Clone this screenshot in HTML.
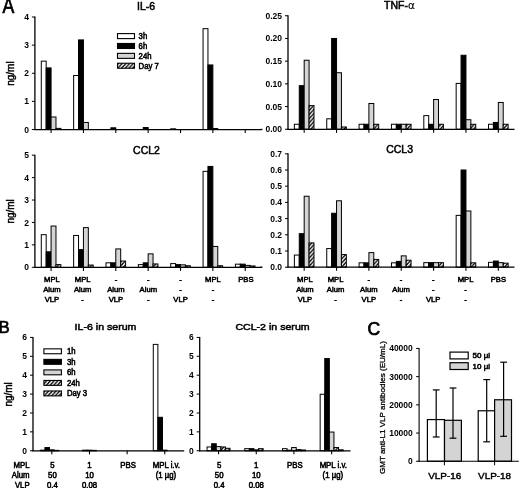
<!DOCTYPE html>
<html><head><meta charset="utf-8"><title>Figure</title>
<style>
html,body{margin:0;padding:0;background:#fff;}
svg{display:block;font-family:"Liberation Sans",Arial,sans-serif;fill:#000;}
svg text{fill:#000;stroke:#000;stroke-width:0.55px;}
svg text.tk{font-weight:bold;stroke-width:0;}
svg text.tt{stroke-width:0.5px;}
svg text.gm{stroke-width:0.3px;}
svg text.pl{stroke-width:0.7px;}
svg text.yl{stroke-width:0.45px;}
</style></head><body>
<svg width="520" height="488" viewBox="0 0 520 488">
<defs>
<pattern id="hatch" patternUnits="userSpaceOnUse" width="3.7" height="4.1">
<rect width="3.7" height="4.1" fill="#fff"/>
<path d="M-1.85,4.1 L1.85,0 M1.85,4.1 L5.55,0 M-1.85,8.2 L1.85,4.1 M1.85,0 L5.55,-4.1" stroke="#000" stroke-width="1.35"/>
</pattern>
</defs>
<rect width="520" height="488" fill="#fff"/>
<text class="pl" transform="translate(2.5,12.6) scale(0.82,1)" font-size="21.5">A</text>
<rect x="41.28" y="61.16" width="4.90" height="68.34" fill="#fff" stroke="#000" stroke-width="1.0"/>
<rect x="46.18" y="67.91" width="4.90" height="61.59" fill="#000" stroke="#000" stroke-width="1.0"/>
<rect x="51.08" y="116.98" width="4.90" height="12.52" fill="#d4d4d4" stroke="#000" stroke-width="1.0"/>
<rect x="55.98" y="128.38" width="4.90" height="1.12" fill="url(#hatch)" stroke="#000" stroke-width="1.0"/>
<rect x="73.64" y="75.50" width="4.90" height="54.00" fill="#fff" stroke="#000" stroke-width="1.0"/>
<rect x="78.54" y="39.92" width="4.90" height="89.58" fill="#000" stroke="#000" stroke-width="1.0"/>
<rect x="83.44" y="122.47" width="4.90" height="7.03" fill="#d4d4d4" stroke="#000" stroke-width="1.0"/>
<rect x="110.89" y="127.81" width="4.90" height="1.69" fill="#000" stroke="#000" stroke-width="1.0"/>
<rect x="143.25" y="127.53" width="4.90" height="1.97" fill="#000" stroke="#000" stroke-width="1.0"/>
<rect x="170.71" y="128.80" width="4.90" height="0.70" fill="#fff" stroke="#000" stroke-width="1.0"/>
<rect x="203.06" y="28.67" width="4.90" height="100.83" fill="#fff" stroke="#000" stroke-width="1.0"/>
<rect x="207.96" y="64.95" width="4.90" height="64.55" fill="#000" stroke="#000" stroke-width="1.0"/>
<rect x="212.86" y="128.52" width="4.90" height="0.98" fill="#d4d4d4" stroke="#000" stroke-width="1.0"/>
<line x1="34.90" y1="16.50" x2="34.90" y2="130.10" stroke="#000" stroke-width="1.3"/>
<line x1="34.30" y1="129.50" x2="262.00" y2="129.50" stroke="#000" stroke-width="1.25"/>
<line x1="31.90" y1="129.50" x2="34.90" y2="129.50" stroke="#000" stroke-width="1"/>
<text x="28.90" y="132.54" font-size="8.5" text-anchor="end" class="tk">0</text>
<line x1="31.90" y1="101.38" x2="34.90" y2="101.38" stroke="#000" stroke-width="1"/>
<text x="28.90" y="104.42" font-size="8.5" text-anchor="end" class="tk">1</text>
<line x1="31.90" y1="73.25" x2="34.90" y2="73.25" stroke="#000" stroke-width="1"/>
<text x="28.90" y="76.29" font-size="8.5" text-anchor="end" class="tk">2</text>
<line x1="31.90" y1="45.12" x2="34.90" y2="45.12" stroke="#000" stroke-width="1"/>
<text x="28.90" y="48.17" font-size="8.5" text-anchor="end" class="tk">3</text>
<line x1="31.90" y1="17.00" x2="34.90" y2="17.00" stroke="#000" stroke-width="1"/>
<text x="28.90" y="20.04" font-size="8.5" text-anchor="end" class="tk">4</text>
<line x1="51.08" y1="129.50" x2="51.08" y2="133.10" stroke="#000" stroke-width="1.1"/>
<line x1="83.44" y1="129.50" x2="83.44" y2="133.10" stroke="#000" stroke-width="1.1"/>
<line x1="115.79" y1="129.50" x2="115.79" y2="133.10" stroke="#000" stroke-width="1.1"/>
<line x1="148.15" y1="129.50" x2="148.15" y2="133.10" stroke="#000" stroke-width="1.1"/>
<line x1="180.51" y1="129.50" x2="180.51" y2="133.10" stroke="#000" stroke-width="1.1"/>
<line x1="212.86" y1="129.50" x2="212.86" y2="133.10" stroke="#000" stroke-width="1.1"/>
<line x1="245.22" y1="129.50" x2="245.22" y2="133.10" stroke="#000" stroke-width="1.1"/>
<text transform="translate(146.00,10.28) scale(1.05,1)" font-size="10" text-anchor="middle" class="tt">IL-6</text>
<rect x="117.50" y="33.60" width="17.00" height="5.00" fill="#fff" stroke="#000" stroke-width="1.1"/>
<text transform="translate(138.60,39.10) scale(0.92,1)" font-size="8.4" text-anchor="start" >3h</text>
<rect x="117.50" y="43.48" width="17.00" height="5.00" fill="#000" stroke="#000" stroke-width="1.1"/>
<text transform="translate(138.60,48.98) scale(0.92,1)" font-size="8.4" text-anchor="start" >6h</text>
<rect x="117.50" y="53.36" width="17.00" height="5.00" fill="#d4d4d4" stroke="#000" stroke-width="1.1"/>
<text transform="translate(138.60,58.86) scale(0.92,1)" font-size="8.4" text-anchor="start" >24h</text>
<rect x="117.50" y="63.24" width="17.00" height="5.00" fill="url(#hatch)" stroke="#000" stroke-width="1.1"/>
<text transform="translate(138.60,68.74) scale(0.92,1)" font-size="8.4" text-anchor="start" >Day 7</text>
<text transform="translate(14.0,73.6) rotate(-90)" font-size="10" text-anchor="middle" class="yl">ng/ml</text>
<rect x="294.38" y="124.26" width="4.90" height="4.99" fill="#fff" stroke="#000" stroke-width="1.0"/>
<rect x="299.28" y="85.67" width="4.90" height="43.58" fill="#000" stroke="#000" stroke-width="1.0"/>
<rect x="304.18" y="60.24" width="4.90" height="69.01" fill="#d4d4d4" stroke="#000" stroke-width="1.0"/>
<rect x="309.08" y="105.64" width="4.90" height="23.61" fill="url(#hatch)" stroke="#000" stroke-width="1.0"/>
<rect x="326.74" y="118.81" width="4.90" height="10.44" fill="#fff" stroke="#000" stroke-width="1.0"/>
<rect x="331.64" y="38.45" width="4.90" height="90.80" fill="#000" stroke="#000" stroke-width="1.0"/>
<rect x="336.54" y="72.73" width="4.90" height="56.52" fill="#d4d4d4" stroke="#000" stroke-width="1.0"/>
<rect x="341.44" y="126.98" width="4.90" height="2.27" fill="url(#hatch)" stroke="#000" stroke-width="1.0"/>
<rect x="359.09" y="124.26" width="4.90" height="4.99" fill="#fff" stroke="#000" stroke-width="1.0"/>
<rect x="363.99" y="124.26" width="4.90" height="4.99" fill="#000" stroke="#000" stroke-width="1.0"/>
<rect x="368.89" y="103.51" width="4.90" height="25.74" fill="#d4d4d4" stroke="#000" stroke-width="1.0"/>
<rect x="373.79" y="124.26" width="4.90" height="4.99" fill="url(#hatch)" stroke="#000" stroke-width="1.0"/>
<rect x="391.45" y="124.26" width="4.90" height="4.99" fill="#fff" stroke="#000" stroke-width="1.0"/>
<rect x="396.35" y="124.26" width="4.90" height="4.99" fill="#000" stroke="#000" stroke-width="1.0"/>
<rect x="401.25" y="124.26" width="4.90" height="4.99" fill="#d4d4d4" stroke="#000" stroke-width="1.0"/>
<rect x="406.15" y="124.26" width="4.90" height="4.99" fill="url(#hatch)" stroke="#000" stroke-width="1.0"/>
<rect x="423.81" y="115.63" width="4.90" height="13.62" fill="#fff" stroke="#000" stroke-width="1.0"/>
<rect x="428.71" y="124.26" width="4.90" height="4.99" fill="#000" stroke="#000" stroke-width="1.0"/>
<rect x="433.61" y="99.51" width="4.90" height="29.74" fill="#d4d4d4" stroke="#000" stroke-width="1.0"/>
<rect x="438.51" y="124.26" width="4.90" height="4.99" fill="url(#hatch)" stroke="#000" stroke-width="1.0"/>
<rect x="456.16" y="83.40" width="4.90" height="45.85" fill="#fff" stroke="#000" stroke-width="1.0"/>
<rect x="461.06" y="55.25" width="4.90" height="74.00" fill="#000" stroke="#000" stroke-width="1.0"/>
<rect x="465.96" y="119.72" width="4.90" height="9.53" fill="#d4d4d4" stroke="#000" stroke-width="1.0"/>
<rect x="470.86" y="124.26" width="4.90" height="4.99" fill="url(#hatch)" stroke="#000" stroke-width="1.0"/>
<rect x="488.52" y="124.26" width="4.90" height="4.99" fill="#fff" stroke="#000" stroke-width="1.0"/>
<rect x="493.42" y="122.44" width="4.90" height="6.81" fill="#000" stroke="#000" stroke-width="1.0"/>
<rect x="498.32" y="102.46" width="4.90" height="26.79" fill="#d4d4d4" stroke="#000" stroke-width="1.0"/>
<rect x="503.22" y="124.26" width="4.90" height="4.99" fill="url(#hatch)" stroke="#000" stroke-width="1.0"/>
<line x1="288.00" y1="15.25" x2="288.00" y2="129.85" stroke="#000" stroke-width="1.3"/>
<line x1="287.40" y1="129.25" x2="514.50" y2="129.25" stroke="#000" stroke-width="1.25"/>
<line x1="285.00" y1="129.25" x2="288.00" y2="129.25" stroke="#000" stroke-width="1"/>
<text x="282.00" y="132.29" font-size="8.5" text-anchor="end" class="tk">0.00</text>
<line x1="285.00" y1="106.55" x2="288.00" y2="106.55" stroke="#000" stroke-width="1"/>
<text x="282.00" y="109.59" font-size="8.5" text-anchor="end" class="tk">0.05</text>
<line x1="285.00" y1="83.85" x2="288.00" y2="83.85" stroke="#000" stroke-width="1"/>
<text x="282.00" y="86.89" font-size="8.5" text-anchor="end" class="tk">0.10</text>
<line x1="285.00" y1="61.15" x2="288.00" y2="61.15" stroke="#000" stroke-width="1"/>
<text x="282.00" y="64.19" font-size="8.5" text-anchor="end" class="tk">0.15</text>
<line x1="285.00" y1="38.45" x2="288.00" y2="38.45" stroke="#000" stroke-width="1"/>
<text x="282.00" y="41.49" font-size="8.5" text-anchor="end" class="tk">0.20</text>
<line x1="285.00" y1="15.75" x2="288.00" y2="15.75" stroke="#000" stroke-width="1"/>
<text x="282.00" y="18.79" font-size="8.5" text-anchor="end" class="tk">0.25</text>
<line x1="304.18" y1="129.25" x2="304.18" y2="132.85" stroke="#000" stroke-width="1.1"/>
<line x1="336.54" y1="129.25" x2="336.54" y2="132.85" stroke="#000" stroke-width="1.1"/>
<line x1="368.89" y1="129.25" x2="368.89" y2="132.85" stroke="#000" stroke-width="1.1"/>
<line x1="401.25" y1="129.25" x2="401.25" y2="132.85" stroke="#000" stroke-width="1.1"/>
<line x1="433.61" y1="129.25" x2="433.61" y2="132.85" stroke="#000" stroke-width="1.1"/>
<line x1="465.96" y1="129.25" x2="465.96" y2="132.85" stroke="#000" stroke-width="1.1"/>
<line x1="498.32" y1="129.25" x2="498.32" y2="132.85" stroke="#000" stroke-width="1.1"/>
<text transform="translate(399.50,8.88) scale(1.05,1)" font-size="10" text-anchor="middle" class="tt">TNF-<tspan font-family="DejaVu Sans" stroke-width="0.15">α</tspan></text>
<line x1="260.00" y1="129.40" x2="262.50" y2="129.40" stroke="#000" stroke-width="1.1"/>
<rect x="41.28" y="234.68" width="4.90" height="32.62" fill="#fff" stroke="#000" stroke-width="1.0"/>
<rect x="46.18" y="251.83" width="4.90" height="15.47" fill="#000" stroke="#000" stroke-width="1.0"/>
<rect x="51.08" y="226.05" width="4.90" height="41.25" fill="#d4d4d4" stroke="#000" stroke-width="1.0"/>
<rect x="55.98" y="264.61" width="4.90" height="2.69" fill="url(#hatch)" stroke="#000" stroke-width="1.0"/>
<rect x="73.64" y="235.46" width="4.90" height="31.84" fill="#fff" stroke="#000" stroke-width="1.0"/>
<rect x="78.54" y="249.59" width="4.90" height="17.71" fill="#000" stroke="#000" stroke-width="1.0"/>
<rect x="83.44" y="227.62" width="4.90" height="39.68" fill="#d4d4d4" stroke="#000" stroke-width="1.0"/>
<rect x="88.34" y="265.06" width="4.90" height="2.24" fill="url(#hatch)" stroke="#000" stroke-width="1.0"/>
<rect x="105.99" y="262.82" width="4.90" height="4.48" fill="#fff" stroke="#000" stroke-width="1.0"/>
<rect x="110.89" y="262.82" width="4.90" height="4.48" fill="#000" stroke="#000" stroke-width="1.0"/>
<rect x="115.79" y="248.92" width="4.90" height="18.38" fill="#d4d4d4" stroke="#000" stroke-width="1.0"/>
<rect x="120.69" y="261.02" width="4.90" height="6.28" fill="url(#hatch)" stroke="#000" stroke-width="1.0"/>
<rect x="138.35" y="264.61" width="4.90" height="2.69" fill="#fff" stroke="#000" stroke-width="1.0"/>
<rect x="143.25" y="262.82" width="4.90" height="4.48" fill="#000" stroke="#000" stroke-width="1.0"/>
<rect x="148.15" y="253.85" width="4.90" height="13.45" fill="#d4d4d4" stroke="#000" stroke-width="1.0"/>
<rect x="153.05" y="263.94" width="4.90" height="3.36" fill="url(#hatch)" stroke="#000" stroke-width="1.0"/>
<rect x="170.71" y="263.60" width="4.90" height="3.70" fill="#fff" stroke="#000" stroke-width="1.0"/>
<rect x="175.61" y="264.61" width="4.90" height="2.69" fill="#000" stroke="#000" stroke-width="1.0"/>
<rect x="180.51" y="264.83" width="4.90" height="2.47" fill="#d4d4d4" stroke="#000" stroke-width="1.0"/>
<rect x="185.41" y="265.73" width="4.90" height="1.57" fill="url(#hatch)" stroke="#000" stroke-width="1.0"/>
<rect x="203.06" y="171.34" width="4.90" height="95.96" fill="#fff" stroke="#000" stroke-width="1.0"/>
<rect x="207.96" y="166.41" width="4.90" height="100.89" fill="#000" stroke="#000" stroke-width="1.0"/>
<rect x="212.86" y="246.45" width="4.90" height="20.85" fill="#d4d4d4" stroke="#000" stroke-width="1.0"/>
<rect x="217.76" y="265.73" width="4.90" height="1.57" fill="url(#hatch)" stroke="#000" stroke-width="1.0"/>
<rect x="235.42" y="264.16" width="4.90" height="3.14" fill="#fff" stroke="#000" stroke-width="1.0"/>
<rect x="240.32" y="264.16" width="4.90" height="3.14" fill="#000" stroke="#000" stroke-width="1.0"/>
<rect x="245.22" y="265.39" width="4.90" height="1.91" fill="#d4d4d4" stroke="#000" stroke-width="1.0"/>
<rect x="250.12" y="265.95" width="4.90" height="1.35" fill="url(#hatch)" stroke="#000" stroke-width="1.0"/>
<line x1="34.90" y1="154.70" x2="34.90" y2="267.90" stroke="#000" stroke-width="1.3"/>
<line x1="34.30" y1="267.30" x2="262.00" y2="267.30" stroke="#000" stroke-width="1.25"/>
<line x1="31.90" y1="267.30" x2="34.90" y2="267.30" stroke="#000" stroke-width="1"/>
<text x="28.90" y="270.34" font-size="8.5" text-anchor="end" class="tk">0</text>
<line x1="31.90" y1="244.88" x2="34.90" y2="244.88" stroke="#000" stroke-width="1"/>
<text x="28.90" y="247.92" font-size="8.5" text-anchor="end" class="tk">1</text>
<line x1="31.90" y1="222.46" x2="34.90" y2="222.46" stroke="#000" stroke-width="1"/>
<text x="28.90" y="225.50" font-size="8.5" text-anchor="end" class="tk">2</text>
<line x1="31.90" y1="200.04" x2="34.90" y2="200.04" stroke="#000" stroke-width="1"/>
<text x="28.90" y="203.08" font-size="8.5" text-anchor="end" class="tk">3</text>
<line x1="31.90" y1="177.62" x2="34.90" y2="177.62" stroke="#000" stroke-width="1"/>
<text x="28.90" y="180.66" font-size="8.5" text-anchor="end" class="tk">4</text>
<line x1="31.90" y1="155.20" x2="34.90" y2="155.20" stroke="#000" stroke-width="1"/>
<text x="28.90" y="158.24" font-size="8.5" text-anchor="end" class="tk">5</text>
<line x1="51.08" y1="267.30" x2="51.08" y2="270.90" stroke="#000" stroke-width="1.1"/>
<line x1="83.44" y1="267.30" x2="83.44" y2="270.90" stroke="#000" stroke-width="1.1"/>
<line x1="115.79" y1="267.30" x2="115.79" y2="270.90" stroke="#000" stroke-width="1.1"/>
<line x1="148.15" y1="267.30" x2="148.15" y2="270.90" stroke="#000" stroke-width="1.1"/>
<line x1="180.51" y1="267.30" x2="180.51" y2="270.90" stroke="#000" stroke-width="1.1"/>
<line x1="212.86" y1="267.30" x2="212.86" y2="270.90" stroke="#000" stroke-width="1.1"/>
<line x1="245.22" y1="267.30" x2="245.22" y2="270.90" stroke="#000" stroke-width="1.1"/>
<text transform="translate(146.50,153.58) scale(1.05,1)" font-size="10" text-anchor="middle" class="tt">CCL2</text>
<text transform="translate(14.0,211.4) rotate(-90)" font-size="10" text-anchor="middle" class="yl">ng/ml</text>
<rect x="294.38" y="255.05" width="4.90" height="12.15" fill="#fff" stroke="#000" stroke-width="1.0"/>
<rect x="299.28" y="233.67" width="4.90" height="33.53" fill="#000" stroke="#000" stroke-width="1.0"/>
<rect x="304.18" y="196.24" width="4.90" height="70.96" fill="#d4d4d4" stroke="#000" stroke-width="1.0"/>
<rect x="309.08" y="242.90" width="4.90" height="24.30" fill="url(#hatch)" stroke="#000" stroke-width="1.0"/>
<rect x="326.74" y="248.57" width="4.90" height="18.63" fill="#fff" stroke="#000" stroke-width="1.0"/>
<rect x="331.64" y="213.25" width="4.90" height="53.95" fill="#000" stroke="#000" stroke-width="1.0"/>
<rect x="336.54" y="200.78" width="4.90" height="66.42" fill="#d4d4d4" stroke="#000" stroke-width="1.0"/>
<rect x="341.44" y="254.56" width="4.90" height="12.64" fill="url(#hatch)" stroke="#000" stroke-width="1.0"/>
<rect x="359.09" y="262.83" width="4.90" height="4.37" fill="#fff" stroke="#000" stroke-width="1.0"/>
<rect x="363.99" y="262.83" width="4.90" height="4.37" fill="#000" stroke="#000" stroke-width="1.0"/>
<rect x="368.89" y="252.62" width="4.90" height="14.58" fill="#d4d4d4" stroke="#000" stroke-width="1.0"/>
<rect x="373.79" y="259.42" width="4.90" height="7.78" fill="url(#hatch)" stroke="#000" stroke-width="1.0"/>
<rect x="391.45" y="262.83" width="4.90" height="4.37" fill="#fff" stroke="#000" stroke-width="1.0"/>
<rect x="396.35" y="261.37" width="4.90" height="5.83" fill="#000" stroke="#000" stroke-width="1.0"/>
<rect x="401.25" y="255.86" width="4.90" height="11.34" fill="#d4d4d4" stroke="#000" stroke-width="1.0"/>
<rect x="406.15" y="260.23" width="4.90" height="6.97" fill="url(#hatch)" stroke="#000" stroke-width="1.0"/>
<rect x="423.81" y="262.66" width="4.90" height="4.54" fill="#fff" stroke="#000" stroke-width="1.0"/>
<rect x="428.71" y="262.66" width="4.90" height="4.54" fill="#000" stroke="#000" stroke-width="1.0"/>
<rect x="433.61" y="262.66" width="4.90" height="4.54" fill="#d4d4d4" stroke="#000" stroke-width="1.0"/>
<rect x="438.51" y="262.66" width="4.90" height="4.54" fill="url(#hatch)" stroke="#000" stroke-width="1.0"/>
<rect x="456.16" y="215.36" width="4.90" height="51.84" fill="#fff" stroke="#000" stroke-width="1.0"/>
<rect x="461.06" y="170.00" width="4.90" height="97.20" fill="#000" stroke="#000" stroke-width="1.0"/>
<rect x="465.96" y="210.99" width="4.90" height="56.21" fill="#d4d4d4" stroke="#000" stroke-width="1.0"/>
<rect x="470.86" y="262.83" width="4.90" height="4.37" fill="url(#hatch)" stroke="#000" stroke-width="1.0"/>
<rect x="488.52" y="262.34" width="4.90" height="4.86" fill="#fff" stroke="#000" stroke-width="1.0"/>
<rect x="493.42" y="261.04" width="4.90" height="6.16" fill="#000" stroke="#000" stroke-width="1.0"/>
<rect x="498.32" y="262.66" width="4.90" height="4.54" fill="#d4d4d4" stroke="#000" stroke-width="1.0"/>
<rect x="503.22" y="263.15" width="4.90" height="4.05" fill="url(#hatch)" stroke="#000" stroke-width="1.0"/>
<line x1="288.00" y1="153.30" x2="288.00" y2="267.80" stroke="#000" stroke-width="1.3"/>
<line x1="287.40" y1="267.20" x2="514.50" y2="267.20" stroke="#000" stroke-width="1.25"/>
<line x1="285.00" y1="267.20" x2="288.00" y2="267.20" stroke="#000" stroke-width="1"/>
<text x="282.00" y="270.24" font-size="8.5" text-anchor="end" class="tk">0.0</text>
<line x1="285.00" y1="251.00" x2="288.00" y2="251.00" stroke="#000" stroke-width="1"/>
<text x="282.00" y="254.04" font-size="8.5" text-anchor="end" class="tk">0.1</text>
<line x1="285.00" y1="234.80" x2="288.00" y2="234.80" stroke="#000" stroke-width="1"/>
<text x="282.00" y="237.84" font-size="8.5" text-anchor="end" class="tk">0.2</text>
<line x1="285.00" y1="218.60" x2="288.00" y2="218.60" stroke="#000" stroke-width="1"/>
<text x="282.00" y="221.64" font-size="8.5" text-anchor="end" class="tk">0.3</text>
<line x1="285.00" y1="202.40" x2="288.00" y2="202.40" stroke="#000" stroke-width="1"/>
<text x="282.00" y="205.44" font-size="8.5" text-anchor="end" class="tk">0.4</text>
<line x1="285.00" y1="186.20" x2="288.00" y2="186.20" stroke="#000" stroke-width="1"/>
<text x="282.00" y="189.24" font-size="8.5" text-anchor="end" class="tk">0.5</text>
<line x1="285.00" y1="170.00" x2="288.00" y2="170.00" stroke="#000" stroke-width="1"/>
<text x="282.00" y="173.04" font-size="8.5" text-anchor="end" class="tk">0.6</text>
<line x1="285.00" y1="153.80" x2="288.00" y2="153.80" stroke="#000" stroke-width="1"/>
<text x="282.00" y="156.84" font-size="8.5" text-anchor="end" class="tk">0.7</text>
<line x1="304.18" y1="267.20" x2="304.18" y2="270.80" stroke="#000" stroke-width="1.1"/>
<line x1="336.54" y1="267.20" x2="336.54" y2="270.80" stroke="#000" stroke-width="1.1"/>
<line x1="368.89" y1="267.20" x2="368.89" y2="270.80" stroke="#000" stroke-width="1.1"/>
<line x1="401.25" y1="267.20" x2="401.25" y2="270.80" stroke="#000" stroke-width="1.1"/>
<line x1="433.61" y1="267.20" x2="433.61" y2="270.80" stroke="#000" stroke-width="1.1"/>
<line x1="465.96" y1="267.20" x2="465.96" y2="270.80" stroke="#000" stroke-width="1.1"/>
<line x1="498.32" y1="267.20" x2="498.32" y2="270.80" stroke="#000" stroke-width="1.1"/>
<text transform="translate(399.60,152.98) scale(1.05,1)" font-size="10" text-anchor="middle" class="tt">CCL3</text>
<line x1="260.00" y1="267.20" x2="262.50" y2="267.20" stroke="#000" stroke-width="1.1"/>
<text transform="translate(51.91,282.33) scale(0.97,1)" font-size="7.9" text-anchor="middle" >MPL</text>
<text transform="translate(51.91,291.98) scale(0.97,1)" font-size="7.9" text-anchor="middle" >Alum</text>
<text transform="translate(51.91,301.63) scale(0.97,1)" font-size="7.9" text-anchor="middle" >VLP</text>
<text transform="translate(82.64,282.33) scale(0.97,1)" font-size="7.9" text-anchor="middle" >MPL</text>
<text transform="translate(82.64,291.98) scale(0.97,1)" font-size="7.9" text-anchor="middle" >Alum</text>
<text transform="translate(82.64,301.63) scale(0.97,1)" font-size="7.9" text-anchor="middle" >-</text>
<text transform="translate(115.97,282.33) scale(0.97,1)" font-size="7.9" text-anchor="middle" >-</text>
<text transform="translate(115.97,291.98) scale(0.97,1)" font-size="7.9" text-anchor="middle" >Alum</text>
<text transform="translate(115.97,301.63) scale(0.97,1)" font-size="7.9" text-anchor="middle" >VLP</text>
<text transform="translate(148.30,282.33) scale(0.97,1)" font-size="7.9" text-anchor="middle" >-</text>
<text transform="translate(148.30,291.98) scale(0.97,1)" font-size="7.9" text-anchor="middle" >Alum</text>
<text transform="translate(148.30,301.63) scale(0.97,1)" font-size="7.9" text-anchor="middle" >-</text>
<text transform="translate(180.53,282.33) scale(0.97,1)" font-size="7.9" text-anchor="middle" >-</text>
<text transform="translate(180.53,291.98) scale(0.97,1)" font-size="7.9" text-anchor="middle" >-</text>
<text transform="translate(180.53,301.63) scale(0.97,1)" font-size="7.9" text-anchor="middle" >VLP</text>
<text transform="translate(212.96,282.33) scale(0.97,1)" font-size="7.9" text-anchor="middle" >MPL</text>
<text transform="translate(212.96,291.98) scale(0.97,1)" font-size="7.9" text-anchor="middle" >-</text>
<text transform="translate(212.96,301.63) scale(0.97,1)" font-size="7.9" text-anchor="middle" >-</text>
<text transform="translate(245.89,282.33) scale(0.97,1)" font-size="7.9" text-anchor="middle" >PBS</text>
<text transform="translate(304.88,282.33) scale(0.97,1)" font-size="7.9" text-anchor="middle" >MPL</text>
<text transform="translate(304.88,291.98) scale(0.97,1)" font-size="7.9" text-anchor="middle" >Alum</text>
<text transform="translate(304.88,301.63) scale(0.97,1)" font-size="7.9" text-anchor="middle" >VLP</text>
<text transform="translate(335.54,282.33) scale(0.97,1)" font-size="7.9" text-anchor="middle" >MPL</text>
<text transform="translate(335.54,291.98) scale(0.97,1)" font-size="7.9" text-anchor="middle" >Alum</text>
<text transform="translate(335.54,301.63) scale(0.97,1)" font-size="7.9" text-anchor="middle" >-</text>
<text transform="translate(368.79,282.33) scale(0.97,1)" font-size="7.9" text-anchor="middle" >-</text>
<text transform="translate(368.79,291.98) scale(0.97,1)" font-size="7.9" text-anchor="middle" >Alum</text>
<text transform="translate(368.79,301.63) scale(0.97,1)" font-size="7.9" text-anchor="middle" >VLP</text>
<text transform="translate(401.05,282.33) scale(0.97,1)" font-size="7.9" text-anchor="middle" >-</text>
<text transform="translate(401.05,291.98) scale(0.97,1)" font-size="7.9" text-anchor="middle" >Alum</text>
<text transform="translate(401.05,301.63) scale(0.97,1)" font-size="7.9" text-anchor="middle" >-</text>
<text transform="translate(433.21,282.33) scale(0.97,1)" font-size="7.9" text-anchor="middle" >-</text>
<text transform="translate(433.21,291.98) scale(0.97,1)" font-size="7.9" text-anchor="middle" >-</text>
<text transform="translate(433.21,301.63) scale(0.97,1)" font-size="7.9" text-anchor="middle" >VLP</text>
<text transform="translate(465.56,282.33) scale(0.97,1)" font-size="7.9" text-anchor="middle" >MPL</text>
<text transform="translate(465.56,291.98) scale(0.97,1)" font-size="7.9" text-anchor="middle" >-</text>
<text transform="translate(465.56,301.63) scale(0.97,1)" font-size="7.9" text-anchor="middle" >-</text>
<text transform="translate(498.42,282.33) scale(0.97,1)" font-size="7.9" text-anchor="middle" >PBS</text>
<text x="-1.50" y="333.20" font-size="16.8" text-anchor="start" class="pl">B</text>
<rect x="40.33" y="450.18" width="4.60" height="0.57" fill="#fff" stroke="#000" stroke-width="1.0"/>
<rect x="44.93" y="447.54" width="4.60" height="3.21" fill="#000" stroke="#000" stroke-width="1.0"/>
<rect x="49.53" y="449.81" width="4.60" height="0.94" fill="#d4d4d4" stroke="#000" stroke-width="1.0"/>
<rect x="54.12" y="450.37" width="4.60" height="0.38" fill="url(#hatch)" stroke="#000" stroke-width="1.0"/>
<rect x="82.57" y="450.18" width="4.60" height="0.57" fill="#000" stroke="#000" stroke-width="1.0"/>
<rect x="87.17" y="450.18" width="4.60" height="0.57" fill="#d4d4d4" stroke="#000" stroke-width="1.0"/>
<rect x="91.77" y="450.37" width="4.60" height="0.38" fill="url(#hatch)" stroke="#000" stroke-width="1.0"/>
<rect x="153.28" y="344.39" width="4.60" height="106.36" fill="#fff" stroke="#000" stroke-width="1.0"/>
<rect x="157.88" y="417.31" width="4.60" height="33.44" fill="#000" stroke="#000" stroke-width="1.0"/>
<rect x="162.47" y="450.18" width="4.60" height="0.57" fill="#d4d4d4" stroke="#000" stroke-width="1.0"/>
<line x1="33.00" y1="336.90" x2="33.00" y2="451.35" stroke="#000" stroke-width="1.3"/>
<line x1="32.40" y1="450.75" x2="184.20" y2="450.75" stroke="#000" stroke-width="1.25"/>
<line x1="30.00" y1="450.75" x2="33.00" y2="450.75" stroke="#000" stroke-width="1"/>
<text x="27.00" y="453.79" font-size="8.5" text-anchor="end" class="tk">0</text>
<line x1="30.00" y1="431.86" x2="33.00" y2="431.86" stroke="#000" stroke-width="1"/>
<text x="27.00" y="434.90" font-size="8.5" text-anchor="end" class="tk">1</text>
<line x1="30.00" y1="412.97" x2="33.00" y2="412.97" stroke="#000" stroke-width="1"/>
<text x="27.00" y="416.01" font-size="8.5" text-anchor="end" class="tk">2</text>
<line x1="30.00" y1="394.07" x2="33.00" y2="394.07" stroke="#000" stroke-width="1"/>
<text x="27.00" y="397.12" font-size="8.5" text-anchor="end" class="tk">3</text>
<line x1="30.00" y1="375.18" x2="33.00" y2="375.18" stroke="#000" stroke-width="1"/>
<text x="27.00" y="378.23" font-size="8.5" text-anchor="end" class="tk">4</text>
<line x1="30.00" y1="356.29" x2="33.00" y2="356.29" stroke="#000" stroke-width="1"/>
<text x="27.00" y="359.33" font-size="8.5" text-anchor="end" class="tk">5</text>
<line x1="30.00" y1="337.40" x2="33.00" y2="337.40" stroke="#000" stroke-width="1"/>
<text x="27.00" y="340.44" font-size="8.5" text-anchor="end" class="tk">6</text>
<line x1="51.83" y1="450.75" x2="51.83" y2="454.35" stroke="#000" stroke-width="1.1"/>
<line x1="89.47" y1="450.75" x2="89.47" y2="454.35" stroke="#000" stroke-width="1.1"/>
<line x1="127.12" y1="450.75" x2="127.12" y2="454.35" stroke="#000" stroke-width="1.1"/>
<line x1="164.78" y1="450.75" x2="164.78" y2="454.35" stroke="#000" stroke-width="1.1"/>
<text transform="translate(105.50,330.23) scale(1.14,1)" font-size="9.3" text-anchor="middle" class="tt">IL-6 in serum</text>
<rect x="207.05" y="446.97" width="4.60" height="3.78" fill="#fff" stroke="#000" stroke-width="1.0"/>
<rect x="211.65" y="443.76" width="4.60" height="6.99" fill="#000" stroke="#000" stroke-width="1.0"/>
<rect x="216.25" y="446.59" width="4.60" height="4.16" fill="#d4d4d4" stroke="#000" stroke-width="1.0"/>
<rect x="220.85" y="446.97" width="4.60" height="3.78" fill="url(#hatch)" stroke="#000" stroke-width="1.0"/>
<rect x="225.45" y="448.29" width="4.60" height="2.46" fill="url(#hatch)" stroke="#000" stroke-width="1.0"/>
<rect x="244.75" y="448.67" width="4.60" height="2.08" fill="#fff" stroke="#000" stroke-width="1.0"/>
<rect x="249.35" y="448.67" width="4.60" height="2.08" fill="#000" stroke="#000" stroke-width="1.0"/>
<rect x="253.95" y="449.81" width="4.60" height="0.94" fill="#d4d4d4" stroke="#000" stroke-width="1.0"/>
<rect x="258.55" y="448.67" width="4.60" height="2.08" fill="url(#hatch)" stroke="#000" stroke-width="1.0"/>
<rect x="282.45" y="448.67" width="4.60" height="2.08" fill="#fff" stroke="#000" stroke-width="1.0"/>
<rect x="287.05" y="450.18" width="4.60" height="0.57" fill="#000" stroke="#000" stroke-width="1.0"/>
<rect x="291.65" y="447.54" width="4.60" height="3.21" fill="#d4d4d4" stroke="#000" stroke-width="1.0"/>
<rect x="296.25" y="449.62" width="4.60" height="1.13" fill="url(#hatch)" stroke="#000" stroke-width="1.0"/>
<rect x="300.85" y="449.99" width="4.60" height="0.76" fill="url(#hatch)" stroke="#000" stroke-width="1.0"/>
<rect x="320.15" y="394.26" width="4.60" height="56.49" fill="#fff" stroke="#000" stroke-width="1.0"/>
<rect x="324.75" y="358.56" width="4.60" height="92.19" fill="#000" stroke="#000" stroke-width="1.0"/>
<rect x="329.35" y="432.05" width="4.60" height="18.70" fill="#d4d4d4" stroke="#000" stroke-width="1.0"/>
<rect x="333.95" y="447.54" width="4.60" height="3.21" fill="url(#hatch)" stroke="#000" stroke-width="1.0"/>
<rect x="338.55" y="449.81" width="4.60" height="0.94" fill="url(#hatch)" stroke="#000" stroke-width="1.0"/>
<line x1="199.70" y1="336.90" x2="199.70" y2="451.35" stroke="#000" stroke-width="1.3"/>
<line x1="199.10" y1="450.75" x2="350.50" y2="450.75" stroke="#000" stroke-width="1.25"/>
<line x1="196.70" y1="450.75" x2="199.70" y2="450.75" stroke="#000" stroke-width="1"/>
<text x="193.70" y="453.79" font-size="8.5" text-anchor="end" class="tk">0</text>
<line x1="196.70" y1="431.86" x2="199.70" y2="431.86" stroke="#000" stroke-width="1"/>
<text x="193.70" y="434.90" font-size="8.5" text-anchor="end" class="tk">1</text>
<line x1="196.70" y1="412.97" x2="199.70" y2="412.97" stroke="#000" stroke-width="1"/>
<text x="193.70" y="416.01" font-size="8.5" text-anchor="end" class="tk">2</text>
<line x1="196.70" y1="394.07" x2="199.70" y2="394.07" stroke="#000" stroke-width="1"/>
<text x="193.70" y="397.12" font-size="8.5" text-anchor="end" class="tk">3</text>
<line x1="196.70" y1="375.18" x2="199.70" y2="375.18" stroke="#000" stroke-width="1"/>
<text x="193.70" y="378.23" font-size="8.5" text-anchor="end" class="tk">4</text>
<line x1="196.70" y1="356.29" x2="199.70" y2="356.29" stroke="#000" stroke-width="1"/>
<text x="193.70" y="359.33" font-size="8.5" text-anchor="end" class="tk">5</text>
<line x1="196.70" y1="337.40" x2="199.70" y2="337.40" stroke="#000" stroke-width="1"/>
<text x="193.70" y="340.44" font-size="8.5" text-anchor="end" class="tk">6</text>
<line x1="218.55" y1="450.75" x2="218.55" y2="454.35" stroke="#000" stroke-width="1.1"/>
<line x1="256.25" y1="450.75" x2="256.25" y2="454.35" stroke="#000" stroke-width="1.1"/>
<line x1="293.95" y1="450.75" x2="293.95" y2="454.35" stroke="#000" stroke-width="1.1"/>
<line x1="331.65" y1="450.75" x2="331.65" y2="454.35" stroke="#000" stroke-width="1.1"/>
<text transform="translate(272.50,329.93) scale(1.14,1)" font-size="9.3" text-anchor="middle" class="tt">CCL-2 in serum</text>
<text transform="translate(11.7,394.4) rotate(-90)" font-size="10" text-anchor="middle" class="yl">ng/ml</text>
<rect x="43.90" y="348.85" width="17.50" height="4.90" fill="#fff" stroke="#000" stroke-width="1.1"/>
<text transform="translate(67.00,354.30) scale(0.92,1)" font-size="8.4" text-anchor="start" >1h</text>
<rect x="43.90" y="359.38" width="17.50" height="4.90" fill="#000" stroke="#000" stroke-width="1.1"/>
<text transform="translate(67.00,364.83) scale(0.92,1)" font-size="8.4" text-anchor="start" >3h</text>
<rect x="43.90" y="369.91" width="17.50" height="4.90" fill="#d4d4d4" stroke="#000" stroke-width="1.1"/>
<text transform="translate(67.00,375.36) scale(0.92,1)" font-size="8.4" text-anchor="start" >6h</text>
<rect x="43.90" y="380.44" width="17.50" height="4.90" fill="url(#hatch)" stroke="#000" stroke-width="1.1"/>
<text transform="translate(67.00,385.89) scale(0.92,1)" font-size="8.4" text-anchor="start" >24h</text>
<rect x="43.90" y="390.97" width="17.50" height="4.90" fill="url(#hatch)" stroke="#000" stroke-width="1.1"/>
<text transform="translate(67.00,396.42) scale(0.92,1)" font-size="8.4" text-anchor="start" >Day 3</text>
<text transform="translate(29.60,468.44) scale(0.95,1)" font-size="8.2" text-anchor="end" >MPL</text>
<text transform="translate(29.60,478.04) scale(0.95,1)" font-size="8.2" text-anchor="end" >Alum</text>
<text transform="translate(29.60,487.64) scale(0.95,1)" font-size="8.2" text-anchor="end" >VLP</text>
<text transform="translate(52.43,468.44) scale(0.95,1)" font-size="8.2" text-anchor="middle" >5</text>
<text transform="translate(52.43,478.04) scale(0.95,1)" font-size="8.2" text-anchor="middle" >50</text>
<text transform="translate(52.43,487.64) scale(0.95,1)" font-size="8.2" text-anchor="middle" >0.4</text>
<text transform="translate(89.47,468.44) scale(0.95,1)" font-size="8.2" text-anchor="middle" >1</text>
<text transform="translate(89.47,478.04) scale(0.95,1)" font-size="8.2" text-anchor="middle" >10</text>
<text transform="translate(89.47,487.64) scale(0.95,1)" font-size="8.2" text-anchor="middle" >0.08</text>
<text transform="translate(128.03,468.44) scale(0.95,1)" font-size="8.2" text-anchor="middle" >PBS</text>
<text transform="translate(166.38,468.44) scale(0.95,1)" font-size="8.2" text-anchor="middle" >MPL i.v.</text>
<text transform="translate(165.97,478.04) scale(0.95,1)" font-size="8.2" text-anchor="middle" >(1 µg)</text>
<text transform="translate(219.15,468.44) scale(0.95,1)" font-size="8.2" text-anchor="middle" >5</text>
<text transform="translate(219.15,478.04) scale(0.95,1)" font-size="8.2" text-anchor="middle" >50</text>
<text transform="translate(219.15,487.64) scale(0.95,1)" font-size="8.2" text-anchor="middle" >0.4</text>
<text transform="translate(256.25,468.44) scale(0.95,1)" font-size="8.2" text-anchor="middle" >1</text>
<text transform="translate(256.25,478.04) scale(0.95,1)" font-size="8.2" text-anchor="middle" >10</text>
<text transform="translate(256.25,487.64) scale(0.95,1)" font-size="8.2" text-anchor="middle" >0.08</text>
<text transform="translate(294.85,468.44) scale(0.95,1)" font-size="8.2" text-anchor="middle" >PBS</text>
<text transform="translate(333.25,468.44) scale(0.95,1)" font-size="8.2" text-anchor="middle" >MPL i.v.</text>
<text transform="translate(332.85,478.04) scale(0.95,1)" font-size="8.2" text-anchor="middle" >(1 µg)</text>
<text x="367.60" y="334.70" font-size="17.6" text-anchor="start" class="pl">C</text>
<rect x="427.40" y="419.57" width="17.10" height="41.68" fill="#fff" stroke="#000" stroke-width="1.2"/>
<rect x="444.50" y="420.30" width="16.90" height="40.95" fill="#d4d4d4" stroke="#000" stroke-width="1.2"/>
<rect x="478.20" y="410.77" width="16.40" height="50.48" fill="#fff" stroke="#000" stroke-width="1.2"/>
<rect x="494.60" y="399.77" width="16.90" height="61.48" fill="#d4d4d4" stroke="#000" stroke-width="1.2"/>
<line x1="436.20" y1="389.90" x2="436.20" y2="437.00" stroke="#000" stroke-width="1.2"/>
<line x1="432.80" y1="389.90" x2="439.60" y2="389.90" stroke="#000" stroke-width="1.2"/>
<line x1="432.80" y1="437.00" x2="439.60" y2="437.00" stroke="#000" stroke-width="1.2"/>
<line x1="453.00" y1="388.00" x2="453.00" y2="438.20" stroke="#000" stroke-width="1.2"/>
<line x1="449.60" y1="388.00" x2="456.40" y2="388.00" stroke="#000" stroke-width="1.2"/>
<line x1="449.60" y1="438.20" x2="456.40" y2="438.20" stroke="#000" stroke-width="1.2"/>
<line x1="486.70" y1="379.60" x2="486.70" y2="441.80" stroke="#000" stroke-width="1.2"/>
<line x1="483.30" y1="379.60" x2="490.10" y2="379.60" stroke="#000" stroke-width="1.2"/>
<line x1="483.30" y1="441.80" x2="490.10" y2="441.80" stroke="#000" stroke-width="1.2"/>
<line x1="503.60" y1="362.20" x2="503.60" y2="436.30" stroke="#000" stroke-width="1.2"/>
<line x1="500.20" y1="362.20" x2="507.00" y2="362.20" stroke="#000" stroke-width="1.2"/>
<line x1="500.20" y1="436.30" x2="507.00" y2="436.30" stroke="#000" stroke-width="1.2"/>
<line x1="419.10" y1="348.00" x2="419.10" y2="461.75" stroke="#000" stroke-width="1.1"/>
<line x1="418.60" y1="461.25" x2="518.80" y2="461.25" stroke="#000" stroke-width="1.1"/>
<line x1="416.10" y1="461.25" x2="419.10" y2="461.25" stroke="#000" stroke-width="1"/>
<text x="412.80" y="464.29" font-size="8.5" text-anchor="end" class="tk">0</text>
<line x1="416.10" y1="433.05" x2="419.10" y2="433.05" stroke="#000" stroke-width="1"/>
<text x="412.80" y="436.09" font-size="8.5" text-anchor="end" class="tk">10000</text>
<line x1="416.10" y1="404.85" x2="419.10" y2="404.85" stroke="#000" stroke-width="1"/>
<text x="412.80" y="407.89" font-size="8.5" text-anchor="end" class="tk">20000</text>
<line x1="416.10" y1="376.65" x2="419.10" y2="376.65" stroke="#000" stroke-width="1"/>
<text x="412.80" y="379.69" font-size="8.5" text-anchor="end" class="tk">30000</text>
<line x1="416.10" y1="348.45" x2="419.10" y2="348.45" stroke="#000" stroke-width="1"/>
<text x="412.80" y="351.49" font-size="8.5" text-anchor="end" class="tk">40000</text>
<rect x="450.00" y="352.10" width="18.20" height="6.80" fill="#fff" stroke="#000" stroke-width="1.2"/>
<text x="472.60" y="358.40" font-size="8" text-anchor="start" >50 µl</text>
<rect x="450.00" y="362.70" width="18.20" height="6.80" fill="#d4d4d4" stroke="#000" stroke-width="1.2"/>
<text x="472.60" y="369.00" font-size="8" text-anchor="start" >10 µl</text>
<text x="444.70" y="479.44" font-size="9.9" text-anchor="middle" class="yl">VLP-16</text>
<line x1="444.40" y1="461.25" x2="444.40" y2="465.25" stroke="#000" stroke-width="1"/>
<line x1="494.60" y1="461.25" x2="494.60" y2="465.25" stroke="#000" stroke-width="1"/>
<text x="494.60" y="479.44" font-size="9.9" text-anchor="middle" class="yl">VLP-18</text>
<text transform="translate(385.1,407.6) rotate(-90)" font-size="8.05" text-anchor="middle" class="gm">GMT anti-L1 VLP antibodies (EU/mL)</text>
</svg>
</body></html>
